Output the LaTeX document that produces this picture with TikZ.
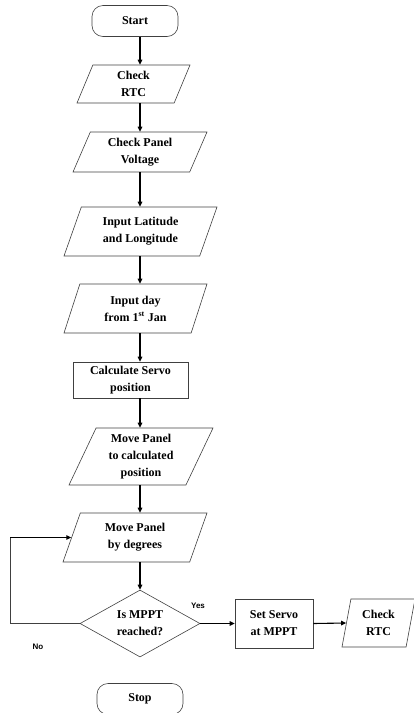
\documentclass[tikz,border=0pt]{standalone}
\usepackage{fontspec}
\setmainfont{Liberation Serif}
\newfontfamily\labelfont{Liberation Sans}
\usetikzlibrary{shapes.geometric, arrows.meta, positioning}

\begin{document}
\begin{tikzpicture}[
    x=1pt, y=-1pt,
    every node/.style={font=\fontsize{12}{17}\selectfont\bfseries, align=center, inner sep=1pt},
    term/.style={rectangle, rounded corners=11pt, draw=black!75, line width=0.6pt, minimum width=86pt, minimum height=31pt},
    io/.style={trapezium, trapezium left angle=60, trapezium right angle=120, trapezium stretches body, draw=black!75, line width=0.6pt},
    proc/.style={rectangle, draw=black!75, line width=0.6pt},
    decision/.style={diamond, draw=black!75, line width=0.6pt, aspect=1.8, minimum width=120pt, minimum height=67pt, inner sep=0pt},
    lbl/.style={font=\labelfont\fontsize{8}{10}\selectfont\bfseries},
    arr/.style={-{Triangle[length=5pt,width=4.5pt]}, line width=1.1pt}
]
    \useasboundingbox (0,0) rectangle (413,713);

    % Main column
    \coordinate (spine) at (140,0);
    \node[term] (start) at (135,21) {Start};
    \node[io, minimum width=113pt, minimum height=38pt] (rtc) at (133.5,84) {Check\\RTC};
    \node[io, minimum width=134pt, minimum height=40pt] (volt) at (140,152) {Check Panel\\Voltage};
    \node[io, minimum width=153pt, minimum height=49pt] (latlon) at (140.5,231.5) {Input Latitude\\and Longitude};
    \node[io, minimum width=143pt, minimum height=49pt] (day) at (135.5,308.5) {Input day\\from 1\textsuperscript{st} Jan};
    \node[proc, minimum width=115pt, minimum height=36pt] (calc) at (130.5,380) {Calculate Servo\\position};
    \node[io, minimum width=144pt, minimum height=57pt] (movecalc) at (141,456.5) {Move Panel\\to calculated\\position};
    \node[io, minimum width=144pt, minimum height=49pt] (movedeg) at (135,537.5) {Move Panel\\by degrees};
    \node[decision] (mppt) at (140,623.5) {Is MPPT\\reached?};
    \node[term] (stop) at (140,699) {Stop};

    % Yes branch
    \node[proc, minimum width=78pt, minimum height=49pt] (setservo) at (274,623.5) {Set Servo\\at MPPT};
    \node[io, trapezium left angle=72, trapezium right angle=108, minimum width=73pt, minimum height=48pt] (rtcend) at (378.5,623) {Check\\RTC};

    % Labels
    \node[lbl] (yes) at (198,606) {Yes};
    \node[lbl] (no) at (38,647) {No};

    % Arrows
    \draw[arr] (start.south -| spine) -- (rtc.north -| spine);
    \draw[arr] (rtc.south -| spine) -- (volt.north -| spine);
    \draw[arr] (volt.south -| spine) -- (latlon.north -| spine);
    \draw[arr] (latlon.south -| spine) -- (day.north -| spine);
    \draw[arr] (day.south -| spine) -- (calc.north -| spine);
    \draw[arr] (calc.south -| spine) -- (movecalc.north -| spine);
    \draw[arr] (movecalc.south -| spine) -- (movedeg.north -| spine);
    \draw[arr] (movedeg.south -| spine) -- (mppt.north);
    \draw[arr] (mppt.east) -- (setservo.west);
    \draw[arr] (setservo.east) -- (rtcend.left side);

    % No loop
    \coordinate (loop) at (10,0);
    \draw[line width=0.6pt, draw=black!75] (mppt.west) -- (mppt.west -| loop) -- (movedeg.left side -| loop);
    \draw[arr] (movedeg.left side -| loop) -- (movedeg.left side);
\end{tikzpicture}
\end{document}
